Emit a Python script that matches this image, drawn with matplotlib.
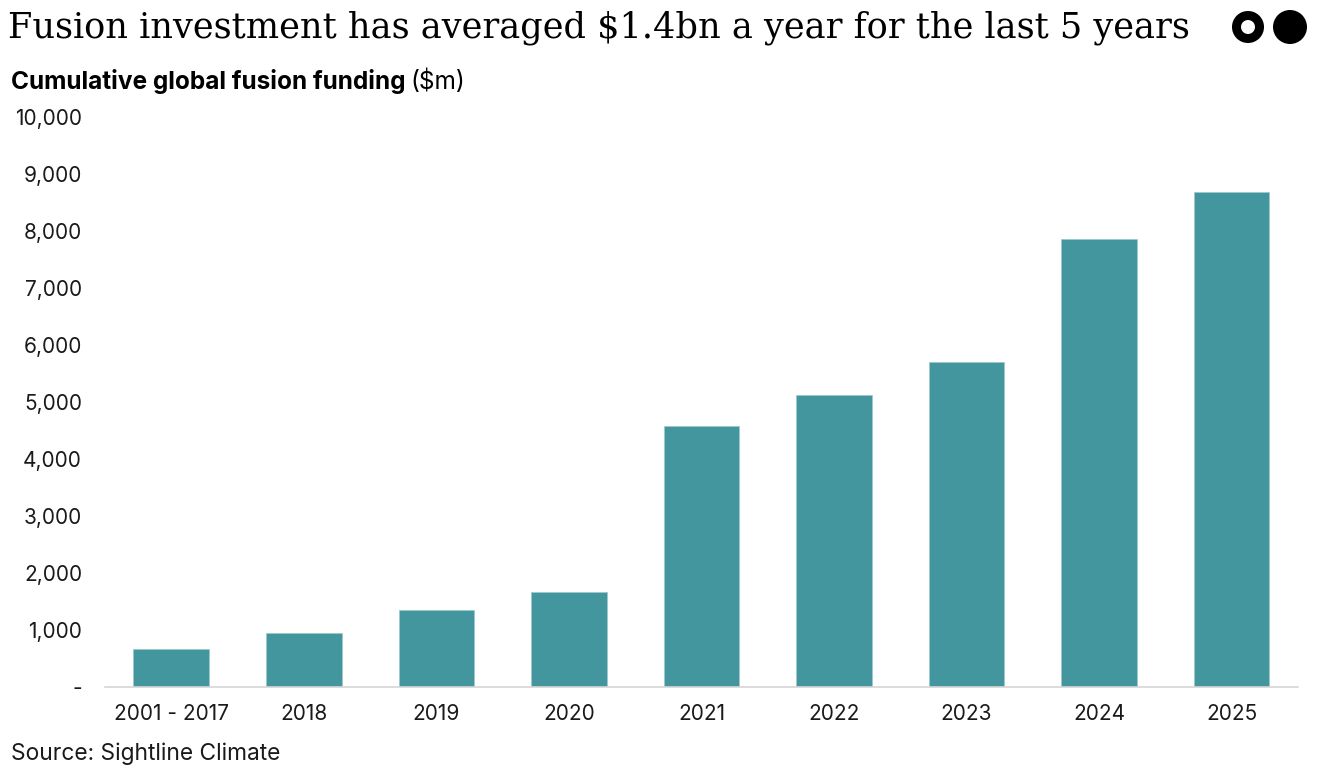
import matplotlib.pyplot as plt
from matplotlib.patches import Ellipse
from matplotlib.ticker import FuncFormatter

# Datos
categories = ['2001 - 2017', '2018', '2019', '2020', '2021', '2022', '2023', '2024', '2025']
funding = [670, 945, 1345, 1670, 4580, 5120, 5700, 7860, 8690]
y_ticks = [0, 1000, 2000, 3000, 4000, 5000, 6000, 7000, 8000, 9000, 10000]

bar_color = '#44969e'
text_color = '#1a1a1a'
sans = ['Inter', 'DejaVu Sans']

W, H = 1320, 778
fig = plt.figure(figsize=(W / 100, H / 100), dpi=100)
ax = fig.add_axes([0.0795, 0.117, 0.9038, 0.7326])

x = range(len(categories))
ax.bar(x, funding, width=0.57, color=bar_color, edgecolor='#9cc9cd', linewidth=0.6)

ax.set_xlim(-0.5, len(categories) - 0.5)
ax.set_ylim(0, 10000)
ax.set_yticks(y_ticks)
ax.yaxis.set_major_formatter(FuncFormatter(lambda v, p: '-' if v == 0 else f'{v:,.0f}'))
ax.set_xticks(list(x))
ax.set_xticklabels(categories)

for s in ['top', 'right', 'left']:
    ax.spines[s].set_visible(False)
ax.spines['bottom'].set_color('#d6d6d6')
ax.spines['bottom'].set_linewidth(1.2)
ax.tick_params(axis='both', length=0, labelsize=15, colors=text_color)
ax.tick_params(axis='y', pad=16.5)
ax.tick_params(axis='x', pad=12)
for lbl in ax.get_xticklabels() + ax.get_yticklabels():
    lbl.set_family(sans)

# Títulos
fig.text(0.006, 0.964, 'Fusion investment has averaged $1.4bn a year for the last 5 years',
         fontsize=25.3, family=['DejaVu Serif'], color='black', va='center', ha='left')
t = fig.text(0.008, 0.895, 'Cumulative global fusion funding', fontsize=17.6,
             weight='bold', family=sans, color='black', va='center', ha='left')
fig.canvas.draw()
bb = t.get_window_extent()
fig.text(bb.x1 / W + 0.004, 0.895, '($m)', fontsize=17.6,
         family=sans, color='black', va='center', ha='left')

fig.text(0.008, 0.031, 'Source: Sightline Climate', fontsize=16.4, family=sans,
         color=text_color, va='center', ha='left')

# Logo (círculos en píxeles convertidos a fracción de figura)
def px_ellipse(cx, cy, r, **kw):
    return Ellipse((cx / W, 1 - cy / H), 2 * r / W, 2 * r / H,
                   transform=fig.transFigure, **kw)

fig.patches.append(px_ellipse(1248, 27, 11.5, facecolor='white', edgecolor='black',
                              linewidth=9.0 * 0.72))
fig.patches.append(px_ellipse(1290, 27, 17, facecolor='black', edgecolor='none'))

fig.savefig('out.png', dpi=100)
